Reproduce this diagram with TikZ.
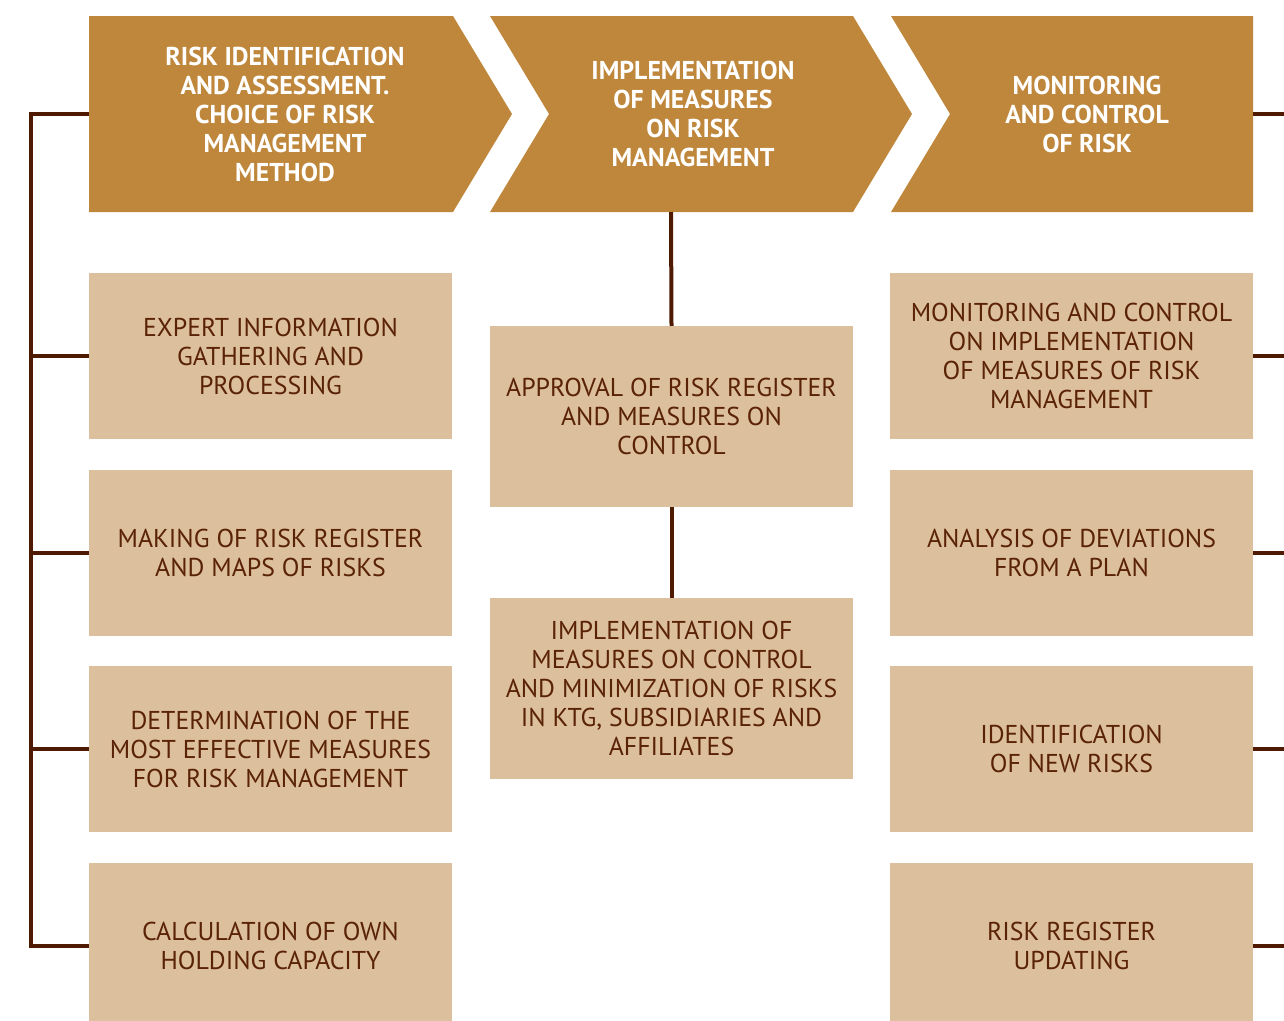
\documentclass[tikz,border=0pt]{standalone}
\usepackage{fontspec}
\setmainfont{PT Sans}
\definecolor{chev}{HTML}{BF873C}
\definecolor{boxc}{HTML}{DCBF9C}
\definecolor{txt}{HTML}{5A2206}
\definecolor{linec}{HTML}{4E1A02}
\begin{document}
\begin{tikzpicture}[x=1pt,y=-1pt,
  hdr/.style={inner sep=0pt, text=white, align=center, font=\fontsize{25.8}{29}\selectfont\bfseries},
  box/.style={fill=boxc, minimum width=363pt, minimum height=166pt, inner sep=0pt, text=txt, align=center, font=\fontsize{25.8}{29}\selectfont},
  mbox/.style={box, minimum height=181pt},
  conn/.style={draw=linec, line width=4pt}]
\useasboundingbox (0,0) rectangle (1284,1020);
\clip (0,0) rectangle (1284,1020);
% chevrons
\fill[chev] (89,16) -- (453,16) -- (512,114) -- (453,212) -- (89,212) -- cycle;
\fill[chev] (490,16) -- (853,16) -- (912,114) -- (853,212) -- (490,212) -- (549,114) -- cycle;
\fill[chev] (891,16) -- (1253,16) -- (1253,212) -- (891,212) -- (950,114) -- cycle;
\coordinate (h1w) at (89,114);
\coordinate (h2s) at (671,212);
\coordinate (h3e) at (1253,114);
\node[hdr] (h1) at (285,114) {RISK IDENTIFICATION\\AND ASSESSMENT.\\CHOICE OF RISK\\MANAGEMENT\\METHOD};
\node[hdr] (h2) at (693,114) {IMPLEMENTATION\\OF MEASURES\\ON RISK\\MANAGEMENT};
\node[hdr] (h3) at (1087,114) {MONITORING\\AND CONTROL\\OF RISK};
% left boxes
\node[box] (l1) at (270.5,356) {EXPERT INFORMATION\\GATHERING AND\\PROCESSING};
\node[box] (l2) at (270.5,553) {MAKING OF RISK REGISTER\\AND MAPS OF RISKS};
\node[box] (l3) at (270.5,749) {DETERMINATION OF THE\\MOST EFFECTIVE MEASURES\\FOR RISK MANAGEMENT};
\node[box] (l4) at (270.5,946) {CALCULATION OF OWN\\HOLDING CAPACITY};
% middle boxes
\node[mbox] (m1) at (671.5,416.5) {APPROVAL OF RISK REGISTER\\AND MEASURES ON\\CONTROL};
\node[mbox] (m2) at (671.5,688.5) {IMPLEMENTATION OF\\MEASURES ON CONTROL\\AND MINIMIZATION OF RISKS\\IN KTG, SUBSIDIARIES AND\\AFFILIATES};
% right boxes
\node[box] (r1) at (1071.5,356) {MONITORING AND CONTROL\\ON IMPLEMENTATION\\OF MEASURES OF RISK\\MANAGEMENT};
\node[box] (r2) at (1071.5,553) {ANALYSIS OF DEVIATIONS\\FROM A PLAN};
\node[box] (r3) at (1071.5,749) {IDENTIFICATION\\OF NEW RISKS};
\node[box] (r4) at (1071.5,946) {RISK REGISTER\\UPDATING};
% connectors
\coordinate (lt) at (31,114);
\coordinate (lb) at (31,946);
\draw[conn] (h1w) -- (lt) -- (lb) -- (l4.west);
\draw[conn] (lt |- l1.west) -- (l1.west);
\draw[conn] (lt |- l2.west) -- (l2.west);
\draw[conn] (lt |- l3.west) -- (l3.west);
\draw[conn] (h2s) -- (m1.north);
\draw[conn] (m1.south) -- (m2.north);
\coordinate (re) at (1290,0);
\draw[conn] (h3e) -- (re |- h3e);
\draw[conn] (r1.east) -- (re |- r1.east);
\draw[conn] (r2.east) -- (re |- r2.east);
\draw[conn] (r3.east) -- (re |- r3.east);
\draw[conn] (r4.east) -- (re |- r4.east);
\end{tikzpicture}
\end{document}
